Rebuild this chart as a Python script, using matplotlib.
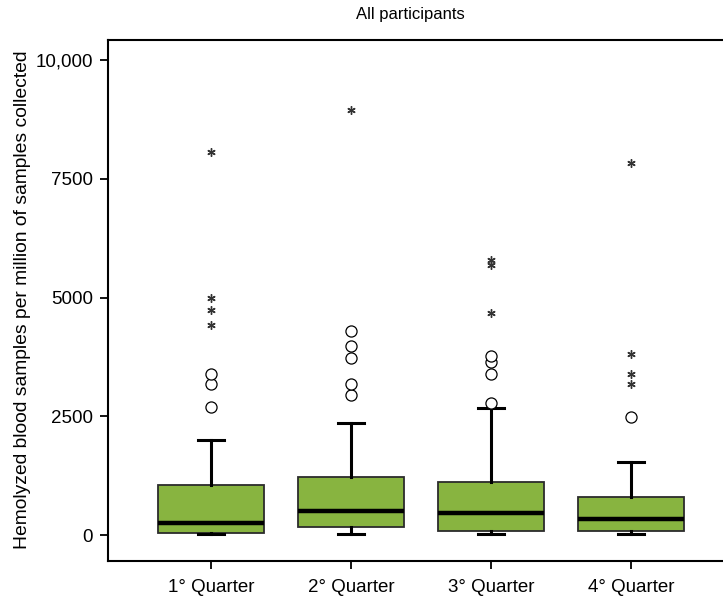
import matplotlib.pyplot as plt
import numpy as np

plt.rcParams['font.family'] = ['Liberation Sans', 'DejaVu Sans']

# data
quarters = ['1° Quarter', '2° Quarter', '3° Quarter', '4° Quarter']
whisker_low = [15, 15, 15, 15]
q1 = [48, 172, 91, 91]
medians = [250, 505, 470, 337]
q3 = [1053, 1218, 1122, 807]
whisker_high = [2000, 2355, 2667, 1544]
# mild outliers (circles) and extreme ones (stars)
outliers = [
    [2695, 3179, 3390],
    [2947, 3179, 3726, 3979, 4295],
    [2786, 3383, 3649, 3768],
    [2491],
]
extremes = [
    [4421, 4737, 4989, 8063],
    [8947],
    [4680, 5684, 5789],
    [3179, 3389, 3810, 7831],
]
y_ticks = [0, 2500, 5000, 7500, 10000]
y_ticklabels = ['0', '2500', '5000', '7500', '10,000']

fig = plt.figure(figsize=(7.23, 5.99), dpi=100)
fig.patch.set_facecolor('white')
ax = fig.add_axes([108 / 723, (599 - 561) / 599, (730 - 108) / 723, (561 - 40) / 599])

stats = []
for i in range(len(quarters)):
    stats.append(dict(whislo=whisker_low[i], q1=q1[i], med=medians[i],
                      q3=q3[i], whishi=whisker_high[i], fliers=[]))

positions = np.arange(1, len(quarters) + 1)
ax.bxp(stats, positions=positions, widths=0.76, patch_artist=True,
       showfliers=False, capwidths=0.19,
       boxprops=dict(facecolor='#88b440', edgecolor='#2b2b2b', linewidth=1.3),
       medianprops=dict(color='black', linewidth=3.2),
       whiskerprops=dict(color='black', linewidth=2.2),
       capprops=dict(color='black', linewidth=2.2))

# outliers as open circles, extremes as asterisks
for pos, vals in zip(positions, outliers):
    ax.plot([pos] * len(vals), vals, linestyle='none', marker='o', ms=8,
            mfc='white', mec='black', mew=0.9)
for pos, vals in zip(positions, extremes):
    ax.plot([pos] * len(vals), vals, linestyle='none', marker=(6, 2, 0), ms=6,
            color='#333333', mew=1.0)

ax.set_xlim(0.264, (730 - 71) / 140)
ax.set_ylim(-547, 10421)
ax.set_xticks(positions)
ax.set_xticklabels(quarters, fontsize=13.5)
ax.set_yticks(y_ticks)
ax.set_yticklabels(y_ticklabels, fontsize=13.5)
ax.tick_params(axis='both', direction='out', length=6, width=1.3, colors='black')
ax.tick_params(axis='x', pad=7)
ax.tick_params(axis='y', pad=5)

for side in ['left', 'bottom', 'top']:
    ax.spines[side].set_linewidth(1.5)
    ax.spines[side].set_color('black')
ax.spines['right'].set_visible(False)

ax.set_ylabel('Hemolyzed blood samples per million of samples collected', fontsize=13.9)
ax.yaxis.set_label_coords(-(108 - 31) / (730 - 108), (561 - 300) / (561 - 40))
fig.text(410 / 723, 1 - 14 / 599, 'All participants', ha='center', va='center', fontsize=12)

fig.savefig('out.png', dpi=100)
